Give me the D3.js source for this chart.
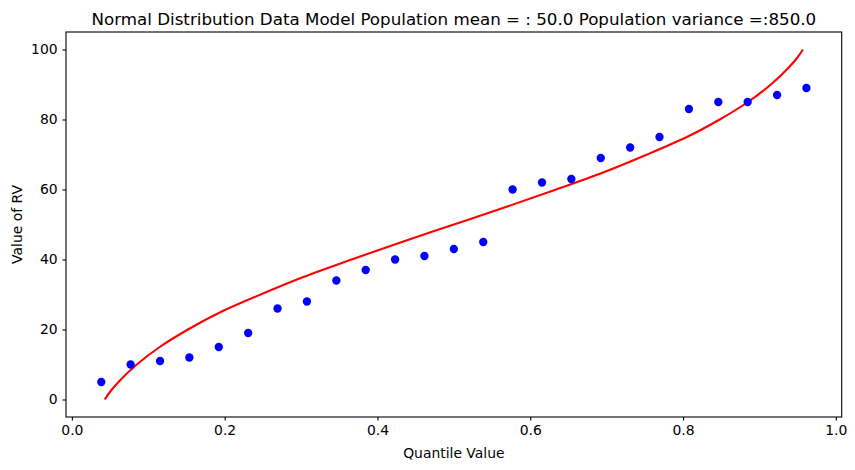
<!DOCTYPE html>
<html>
<head>
<meta charset="utf-8">
<script src="https://cdn.jsdelivr.net/npm/d3@7"></script>
<style>
  body { margin: 0; background: #fff; }
  text { font-family: "DejaVu Sans", sans-serif; fill: #000; }
</style>
</head>
<body>
<script>
// sample points: quantile i/26 vs sorted value
var quantiles = [0.0385, 0.0769, 0.1154, 0.1538, 0.1923, 0.2308, 0.2692, 0.3077, 0.3462,
  0.3846, 0.4231, 0.4615, 0.5, 0.5385, 0.5769, 0.6154, 0.6538, 0.6923, 0.7308, 0.7692,
  0.8077, 0.8462, 0.8846, 0.9231, 0.9615];
var values = [5, 10, 11, 12, 15, 19, 26, 28, 34, 37, 40, 41, 43, 45, 60, 62, 63, 69, 72, 75,
  83, 85, 85, 87, 89];

// red model curve
var curveQ = [0.043, 0.051, 0.061, 0.085, 0.115, 0.152, 0.195, 0.247, 0.303, 0.366, 0.432, 0.5,
  0.568, 0.634, 0.697, 0.753, 0.805, 0.848, 0.885, 0.915, 0.939, 0.949, 0.957];
var curveV = [0, 2.5, 5, 10, 15, 20, 25, 30, 35, 40, 45, 50, 55, 60, 65, 70, 75, 80, 85, 90, 95, 97.5, 100];

var xTicks = [0, 0.2, 0.4, 0.6, 0.8, 1.0];
var yTicks = [0, 20, 40, 60, 80, 100];

var titleText = "Normal Distribution Data Model Population mean = : 50.0 Population variance =:850.0";

var width = 855, height = 470;
var plotLeft = 66, plotRight = 841.7, plotTop = 32, plotBottom = 417;

var svg = d3.select("body").append("svg")
  .attr("width", width)
  .attr("height", height);

var x = d3.scaleLinear().domain([-0.00769, 1.00769]).range([plotLeft, plotRight]);
var y = d3.scaleLinear().domain([-5, 105]).range([plotBottom, plotTop]);

// curve
var line = d3.line()
  .x(function(d) { return x(d[0]); })
  .y(function(d) { return y(d[1]); })
  .curve(d3.curveMonotoneY);

svg.append("path")
  .datum(curveQ.map(function(q, i) { return [q, curveV[i]]; }))
  .attr("d", line)
  .attr("fill", "none")
  .attr("stroke", "#ff0000")
  .attr("stroke-width", 2.08);

svg.append("g").selectAll("circle")
  .data(quantiles)
  .enter().append("circle")
  .attr("cx", function(d) { return x(d); })
  .attr("cy", function(d, i) { return y(values[i]); })
  .attr("r", 4.17)
  .attr("fill", "#0000ff");

// axes
var xAxis = d3.axisBottom(x).tickValues(xTicks).tickFormat(d3.format(".1f"))
  .tickSizeOuter(0).tickSizeInner(3.5).tickPadding(4.9);
var yAxis = d3.axisLeft(y).tickValues(yTicks).tickFormat(d3.format("d"))
  .tickSizeOuter(0).tickSizeInner(3.5).tickPadding(4.9);

var gx = svg.append("g").attr("transform", "translate(0," + plotBottom + ")").call(xAxis);
var gy = svg.append("g").attr("transform", "translate(" + plotLeft + ",0)").call(yAxis);
[gx, gy].forEach(function(g) {
  g.select(".domain").remove();
  g.selectAll("line").attr("stroke", "#000").attr("stroke-width", 1.1);
  g.selectAll("text").attr("font-size", "13.9px").attr("font-family", "DejaVu Sans");
});

// frame
svg.append("rect")
  .attr("x", plotLeft).attr("y", plotTop)
  .attr("width", plotRight - plotLeft).attr("height", plotBottom - plotTop)
  .attr("fill", "none").attr("stroke", "#000").attr("stroke-width", 1.1);

svg.append("text")
  .attr("x", (plotLeft + plotRight) / 2).attr("y", 24.5)
  .attr("text-anchor", "middle")
  .attr("font-size", "16.7px")
  .text(titleText);

svg.append("text")
  .attr("x", (plotLeft + plotRight) / 2).attr("y", 458)
  .attr("text-anchor", "middle")
  .attr("font-size", "13.9px")
  .text("Quantile Value");

svg.append("text")
  .attr("transform", "translate(22," + (plotTop + plotBottom) / 2 + ") rotate(-90)")
  .attr("text-anchor", "middle")
  .attr("font-size", "13.9px")
  .text("Value of RV");
</script>
</body>
</html>
